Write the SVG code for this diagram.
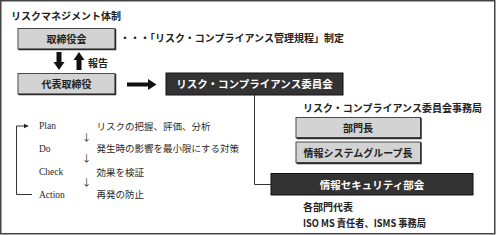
<svg xmlns="http://www.w3.org/2000/svg" width="496" height="235" viewBox="0 0 496 235">
<defs>
<style>
.lb{fill:#d3d3d3;stroke:#4a4a4a;stroke-width:1}
.sh{fill:none;stroke:#2a2a2a;stroke-width:1.5}
.db{fill:#333;stroke:#111;stroke-width:1}
.t{font-family:"Noto Sans CJK JP","Liberation Sans",sans-serif;font-weight:bold;font-size:10px;fill:#222}
.tw{font-family:"Noto Sans CJK JP","Liberation Sans",sans-serif;font-weight:bold;font-size:10.5px;fill:#fff}
.m{font-family:"Noto Sans CJK JP",sans-serif;font-weight:normal;font-size:9.5px;fill:#2a2a2a}
.e{font-family:"Liberation Serif",serif;font-size:9.5px;fill:#2a2a2a}
.ln{fill:none;stroke:#333;stroke-width:1}
</style>
<marker id="ah" viewBox="0 0 10 10" refX="9" refY="5" markerWidth="5" markerHeight="5" orient="auto"><path d="M0,0L10,5L0,10z" fill="#222"/></marker>
</defs>
<rect x="0.75" y="0.75" width="494" height="233" fill="#fff" stroke="#444" stroke-width="1.5"/>
<text class="t" x="11" y="19.5">リスクマネジメント体制</text>
<g id="board">
<rect class="lb" x="18" y="28.5" width="97" height="20.5"/>
<path class="sh" d="M115.5,29V49.5H18.5"/>
<text class="t" x="66.5" y="42.5" text-anchor="middle">取締役会</text>
</g>
<text class="t" x="120" y="42">・・・「リスク・コンプライアンス管理規程」制定</text>
<g id="ceo">
<rect class="lb" x="18" y="73.5" width="97" height="20.5"/>
<path class="sh" d="M115.5,74V94.5H18.5"/>
<text class="t" x="66.5" y="87.5" text-anchor="middle">代表取締役</text>
</g>
<g id="committee">
<rect class="db" x="166" y="73" width="177" height="22"/>
<text class="tw" x="254.5" y="88" text-anchor="middle">リスク・コンプライアンス委員会</text>
</g>
<text class="t" x="303" y="112">リスク・コンプライアンス委員会事務局</text>
<g id="dept-head">
<rect class="lb" x="296" y="117.5" width="124.5" height="20"/>
<path class="sh" d="M421,118V138.5H296.5"/>
<text class="t" x="358" y="131.5" text-anchor="middle">部門長</text>
</g>
<g id="is-head">
<rect class="lb" x="296" y="142" width="124.5" height="20.5"/>
<path class="sh" d="M421,142.5V163.5H296.5"/>
<text class="t" x="358" y="156.5" text-anchor="middle">情報システムグループ長</text>
</g>
<g id="security">
<rect class="db" x="271" y="173.5" width="202" height="21.5"/>
<text class="tw" x="372" y="188.5" text-anchor="middle">情報セキュリティ部会</text>
</g>
<text class="t" x="303" y="210.5">各部門代表</text>
<text class="t" x="303" y="226.5" textLength="123" lengthAdjust="spacingAndGlyphs">ISO MS 責任者、ISMS 事務局</text>
<g id="connectors">
<path d="M56.5,52V62H53.5L59,70L64.5,62H61.5V52Z" fill="#111"/>
<path d="M76.5,70V60H73.5L79,52L84.5,60H81.5V70Z" fill="#111"/>
<text class="t" x="88" y="66.5">報告</text>
<path d="M127,82.5H148V79L156.5,84.5L148,90V86.5H127Z" fill="#111"/>
<path class="ln" d="M254.5,95V184.5H271"/>
<path class="ln" d="M32,194.5H16.5V126H28" marker-end="url(#ah)"/>
</g>
<g id="pdca">
<text class="e" x="39" y="129">Plan</text>
<text class="e" x="39" y="151.5">Do</text>
<text class="e" x="39" y="175">Check</text>
<text class="e" x="39" y="197.5">Action</text>
<text class="m" x="86.5" y="140.5" text-anchor="middle">↓</text>
<text class="m" x="86.5" y="162" text-anchor="middle">↓</text>
<text class="m" x="86.5" y="185.5" text-anchor="middle">↓</text>
<text class="m" x="96.5" y="129.5">リスクの把握、評価、分析</text>
<text class="m" x="96.5" y="152">発生時の影響を最小限にする対策</text>
<text class="m" x="96.5" y="175.5">効果を検証</text>
<text class="m" x="96.5" y="198">再発の防止</text>
</g>
</svg>
